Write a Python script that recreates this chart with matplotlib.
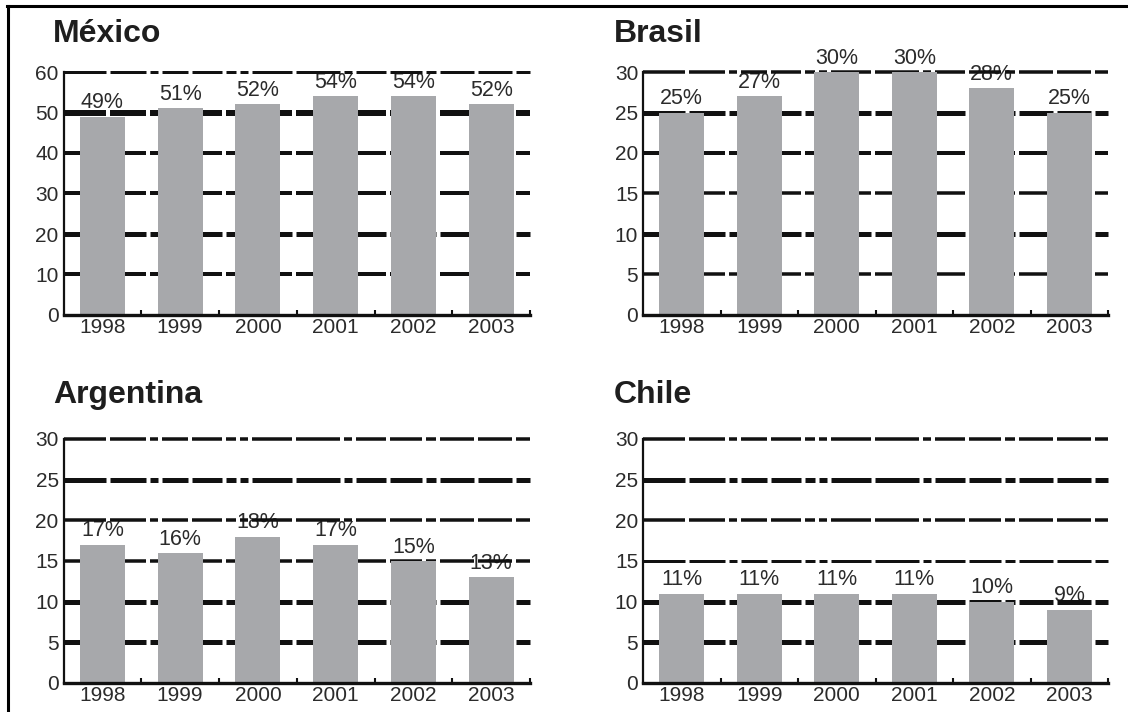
import numpy as np
import matplotlib
matplotlib.use("Agg")
import matplotlib.pyplot as plt
from matplotlib.lines import Line2D

plt.rcParams["font.family"] = ["Liberation Sans", "DejaVu Sans"]
plt.rcParams["lines.scale_dashes"] = False

# ---- data ----
years = ["1998", "1999", "2000", "2001", "2002", "2003"]
mexico = [49, 51, 52, 54, 54, 52]
brasil = [25, 27, 30, 30, 28, 25]
argentina = [17, 16, 18, 17, 15, 13]
chile = [11, 11, 11, 11, 10, 9]

W, H = 1128, 712
PT = 72 / 100  # pixels -> points

fig = plt.figure(figsize=(W / 100, H / 100), dpi=100)
fig.patch.set_facecolor("white")


def axes_px(x0, y_top, x1, y_bot):
    return fig.add_axes([x0 / W, 1 - y_bot / H, (x1 - x0) / W, (y_bot - y_top) / H])


# irregular dash-dot rule used for the horizontal grid (pixels)
dash_px = [42, 4, 36, 4, 8, 4, 26, 4, 30, 4, 10, 4, 8, 4, 40, 4,
           44, 4, 8, 4, 30, 4, 32, 4, 10, 4, 34, 4, 34, 4]
dash = (0, tuple(d * PT for d in dash_px))

BAR = "#a7a8ab"
INK = "#111111"
TXT = "#2b2b2b"

panels = [
    # title, values, ymax, step, axes box (px), title pos (px), grid widths (px, bottom->top)
    ("México", mexico, 60, 10, (63.5, 72, 530, 315), (53, 42), [4, 5, 4, 4, 6, 3]),
    ("Brasil", brasil, 30, 5, (643, 72, 1108, 315), (614, 42), [3.5, 5, 3.5, 4, 5, 3.5]),
    ("Argentina", argentina, 30, 5, (63.5, 439, 530, 683), (53, 403), [5, 5, 3.5, 3.5, 5, 3.5]),
    ("Chile", chile, 30, 5, (643, 439, 1108, 683), (614, 403), [5, 5, 3, 3.5, 5, 3.5]),
]

for title, vals, ymax, step, box, tpos, gw in panels:
    ax = axes_px(*box)
    x = np.arange(len(years))
    ax.bar(x, vals, width=0.58, color=BAR, zorder=3)

    ticks = list(range(0, ymax + 1, step))
    for t, w in zip(ticks[1:], gw):
        ax.axhline(t, color=INK, lw=w * PT, linestyle=dash, zorder=2,
                   clip_on=False, dash_capstyle="butt")

    ax.set_xlim(-0.5, len(years) - 0.5)
    ax.set_ylim(0, ymax)
    ax.set_yticks(ticks)
    ax.set_xticks(x, years)
    ax.set_xticks(np.arange(0.5, len(years), 1), minor=True)
    ax.tick_params(axis="x", which="major", length=0, pad=2, labelsize=15, labelcolor=TXT)
    ax.tick_params(axis="x", which="minor", direction="in", length=3.5, width=1.5, color=INK)
    ax.tick_params(axis="y", length=0, pad=3.5, labelsize=15, labelcolor=TXT)

    for s in ("top", "right"):
        ax.spines[s].set_visible(False)
    ax.spines["left"].set_linewidth(1.6)
    ax.spines["bottom"].set_linewidth(2.4)
    ax.spines["left"].set_color(INK)
    ax.spines["bottom"].set_color(INK)
    ax.spines["bottom"].set_zorder(4)
    ax.spines["left"].set_zorder(4)

    for xi, v in zip(x, vals):
        ax.annotate(f"{v}%", (xi, v), xytext=(0, 6), textcoords="offset points",
                    ha="center", va="baseline", fontsize=15.5, color=TXT, zorder=1,
                    annotation_clip=False)

    fig.text(tpos[0] / W, 1 - tpos[1] / H, title, fontsize=23, fontweight="bold",
             color="#1e1e1e", ha="left", va="baseline")

# page frame: top and left rules
fig.add_artist(Line2D([7 / W, 1], [1 - 6 / H, 1 - 6 / H], color="black", lw=2.2,
                      transform=fig.transFigure))
fig.add_artist(Line2D([7.5 / W, 7.5 / W], [0, 1 - 6 / H], color="black", lw=2.2,
                      transform=fig.transFigure))

fig.savefig("out.png", dpi=100, facecolor="white")
